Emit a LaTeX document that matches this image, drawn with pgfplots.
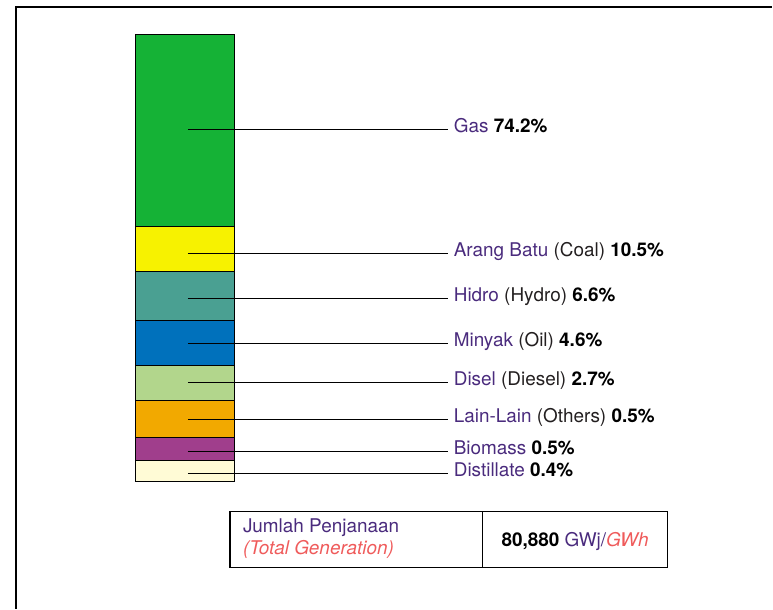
\documentclass[border=0pt]{standalone}
\usepackage{pgfplots}
\pgfplotsset{compat=1.18}
\usepackage{fontspec}
\setmainfont{TeX Gyre Heros}

\definecolor{cgas}{RGB}{21,178,54}
\definecolor{ccoal}{RGB}{247,242,0}
\definecolor{chydro}{RGB}{74,160,146}
\definecolor{coil}{RGB}{0,113,188}
\definecolor{cdiesel}{RGB}{178,214,140}
\definecolor{cothers}{RGB}{242,169,0}
\definecolor{cbio}{RGB}{160,62,140}
\definecolor{cdist}{RGB}{255,251,214}
\definecolor{lbl}{RGB}{74,43,125}
\definecolor{dark}{RGB}{35,31,32}
\definecolor{salmon}{RGB}{239,91,91}
\newcommand\lf{\fontsize{19}{22}\selectfont}

\begin{document}
\begin{tikzpicture}
\begin{axis}[
  width=773bp, height=609bp, scale only axis,
  xmin=0, xmax=773, ymin=-127, ymax=482,
  hide axis, clip=false,
  ybar stacked, bar width=100,
]
% segment heights as drawn (not proportional to the shares), bottom to top
\addplot[fill=cdist, draw=black, line width=0.7pt] coordinates {(185,21.3)};
\addplot[fill=cbio, draw=black, line width=0.7pt] coordinates {(185,23.4)};
\addplot[fill=cothers, draw=black, line width=0.7pt] coordinates {(185,37.0)};
\addplot[fill=cdiesel, draw=black, line width=0.7pt] coordinates {(185,35.0)};
\addplot[fill=coil, draw=black, line width=0.7pt] coordinates {(185,45.0)};
\addplot[fill=chydro, draw=black, line width=0.7pt] coordinates {(185,48.3)};
\addplot[fill=ccoal, draw=black, line width=0.7pt] coordinates {(185,45.7)};
\addplot[fill=cgas, draw=black, line width=0.7pt] coordinates {(185,192.3)};

% frame
\draw[line width=1.2pt] (axis cs:16,-127) -- (axis cs:16,475) -- (axis cs:773,475);
\path (axis cs:0,-127) rectangle (axis cs:773,482);

% leader line ends
\coordinate (a1) at (axis cs:188,353);   \coordinate (b1) at (axis cs:448,353);
\coordinate (a2) at (axis cs:188,228.7); \coordinate (b2) at (axis cs:448,228.7);
\coordinate (a3) at (axis cs:188,183.7); \coordinate (b3) at (axis cs:448,183.7);
\coordinate (a4) at (axis cs:188,138.3); \coordinate (b4) at (axis cs:448,138.3);
\coordinate (a5) at (axis cs:188,99.3);  \coordinate (b5) at (axis cs:448,99.3);
\coordinate (a6) at (axis cs:188,62.3);  \coordinate (b6) at (axis cs:448,62.3);
\coordinate (a7) at (axis cs:188,30.7);  \coordinate (b7) at (axis cs:448,30.7);
\coordinate (a8) at (axis cs:188,8.3);   \coordinate (b8) at (axis cs:448,8.3);

\node[anchor=base west, font=\lf, inner sep=0] at (axis cs:454,349.5) {\textcolor{lbl}{Gas} \textbf{74.2\%}};
\node[anchor=base west, font=\lf, inner sep=0] at (axis cs:454,225.2) {\textcolor{lbl}{Arang Batu} \textcolor{dark}{(Coal)} \textbf{10.5\%}};
\node[anchor=base west, font=\lf, inner sep=0] at (axis cs:454,180.2) {\textcolor{lbl}{Hidro} \textcolor{dark}{(Hydro)} \textbf{6.6\%}};
\node[anchor=base west, font=\lf, inner sep=0] at (axis cs:454,134.8) {\textcolor{lbl}{Minyak} \textcolor{dark}{(Oil)} \textbf{4.6\%}};
\node[anchor=base west, font=\lf, inner sep=0] at (axis cs:454,95.8) {\textcolor{lbl}{Disel} \textcolor{dark}{(Diesel)} \textbf{2.7\%}};
\node[anchor=base west, font=\lf, inner sep=0] at (axis cs:454,58.8) {\textcolor{lbl}{Lain-Lain} \textcolor{dark}{(Others)} \textbf{0.5\%}};
\node[anchor=base west, font=\lf, inner sep=0] at (axis cs:454,27.2) {\textcolor{lbl}{Biomass} \textbf{0.5\%}};
\node[anchor=base west, font=\lf, inner sep=0] at (axis cs:454,4.8) {\textcolor{lbl}{Distillate} \textbf{0.4\%}};

% total generation box
\draw[line width=0.9pt] (axis cs:483,-30) -- (axis cs:668,-30) -- (axis cs:668,-86);
\draw[line width=1.6pt] (axis cs:668,-86) -- (axis cs:230,-86) -- (axis cs:230,-30) -- (axis cs:483,-30) -- (axis cs:483,-86);
\node[anchor=base west, font=\lf, inner sep=0, text=lbl] at (axis cs:243,-51) {Jumlah Penjanaan};
\node[anchor=base west, font=\lf, inner sep=0, text=salmon] at (axis cs:243,-73) {\itshape (Total Generation)};
\node[anchor=base, font=\lf, inner sep=0] at (axis cs:575.5,-64.7) {\textbf{80,880} \textcolor{lbl}{GWj/}\textcolor{salmon}{\itshape GWh}};
\end{axis}
\foreach \i in {1,...,8} \draw[line width=0.7pt] (a\i) -- (b\i);
\end{tikzpicture}
\end{document}
